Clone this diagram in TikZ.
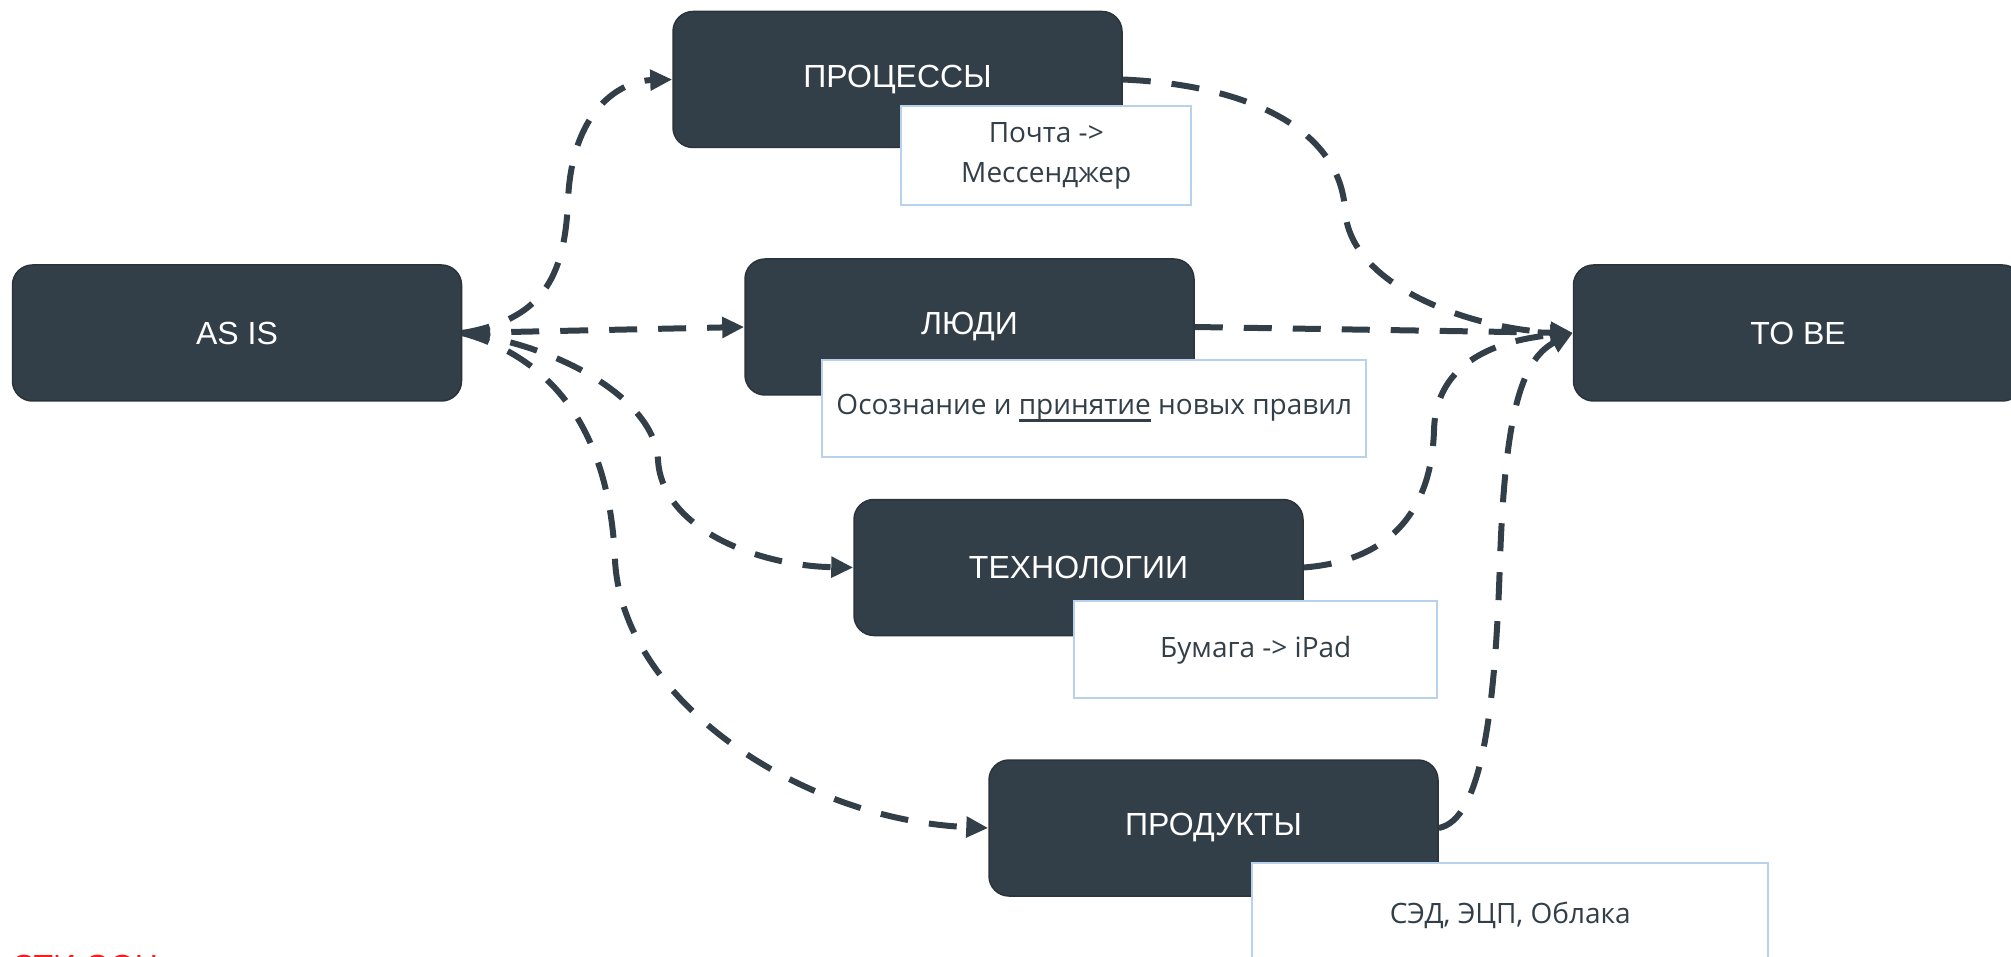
\documentclass[tikz,border=0pt]{standalone}
\usepackage{fontspec}
\setmainfont{Liberation Sans}
\newfontfamily\notefont{Open Sans}
\newcommand\thickul[1]{\setbox0\hbox{#1}\rlap{\rule[-7pt]{\wd0}{3pt}}\box0\relax}
\usetikzlibrary{positioning,arrows.meta}
\definecolor{slate}{HTML}{333F48}
\definecolor{slateline}{HTML}{2A3339}
\definecolor{noteline}{HTML}{B8D1EC}
\definecolor{alert}{HTML}{FF1A1A}
\tikzset{stage/.style={rectangle,rounded corners=20pt,fill=slate,draw=slateline,line width=1.5pt,minimum width=449pt,minimum height=136pt,inner sep=0pt,text=white,font=\fontsize{32}{38}\selectfont},
note/.style={rectangle,fill=white,draw=noteline,line width=2pt,inner sep=0pt,align=center,text=slate,font=\notefont\fontsize{28}{40}\selectfont},
flow/.style={draw=slate,line width=6pt,dash pattern=on 28pt off 21pt,-{Triangle[length=22pt,width=20pt]}},
}

\begin{document}
\begin{tikzpicture}[x=1pt,y=-1pt]
				\useasboundingbox (0,0) rectangle (2011,957);
				
				\node[stage] (asis) at (237,333) {AS IS};
				\node[stage] (proc) [above right=116pt and 210pt of asis] {ПРОЦЕССЫ};
				\node[stage] (people) [right=282pt of asis, yshift=6pt] {ЛЮДИ};
				\node[stage] (tech) [below=103pt of people, xshift=109pt] {ТЕХНОЛОГИИ};
				\node[stage] (prod) [below=123pt of tech, xshift=135pt] {ПРОДУКТЫ};
				\node[stage] (tobe) [right=378pt of people, yshift=-6pt] {TO BE};
				
				\node[note, anchor=north west, minimum width=290pt, minimum height=99pt, xshift=228pt, yshift=43pt] (mail) at (proc.south west) {Почта ->\\Мессенджер};
				\node[note, anchor=north west, minimum width=544pt, minimum height=97pt, xshift=77pt, yshift=37pt] (rules) at (people.south west) {Осознание и \thickul{принятие} новых правил};
				\node[note, anchor=north west, minimum width=363pt, minimum height=97pt, xshift=220pt, yshift=36pt] (paper) at (tech.south west) {Бумага -> iPad};
				\node[note, anchor=north west, minimum width=516pt, minimum height=106pt, xshift=263pt, yshift=35pt] (docs) at (prod.south west) {СЭД, ЭЦП, Облака};
				
				\node[anchor=base west, text=alert, font=\fontsize{32}{38}\selectfont] (footer) at (8,977) {СТИ ООН};
				
				\path[flow] (asis.east) .. controls (540,320) and (565,280) .. (568,200) .. controls (572,110) and (620,81) .. (proc.west);
				\path[flow] (asis.east) -- (people.west);
				\path[flow] (asis.east) .. controls (560,345) and (655,400) .. (658,460) .. controls (662,530) and (760,566) .. (tech.west);
				\path[flow] (asis.east) .. controls (560,360) and (610,440) .. (615,560) .. controls (622,700) and (800,820) .. (prod.west);
				
				\path[flow] (proc.east) .. controls (1250,85) and (1340,130) .. (1345,210) .. controls (1350,290) and (1480,330) .. (tobe.west);
				\path[flow] (people.east) -- (tobe.west);
				\path[flow] (tech.east) .. controls (1400,560) and (1432,500) .. (1434,430) .. controls (1436,360) and (1500,340) .. (tobe.west);
				\path[flow] (prod.east) .. controls (1480,820) and (1495,720) .. (1500,560) .. controls (1505,420) and (1520,360) .. (tobe.west);
				
			\end{tikzpicture}
\end{document}
